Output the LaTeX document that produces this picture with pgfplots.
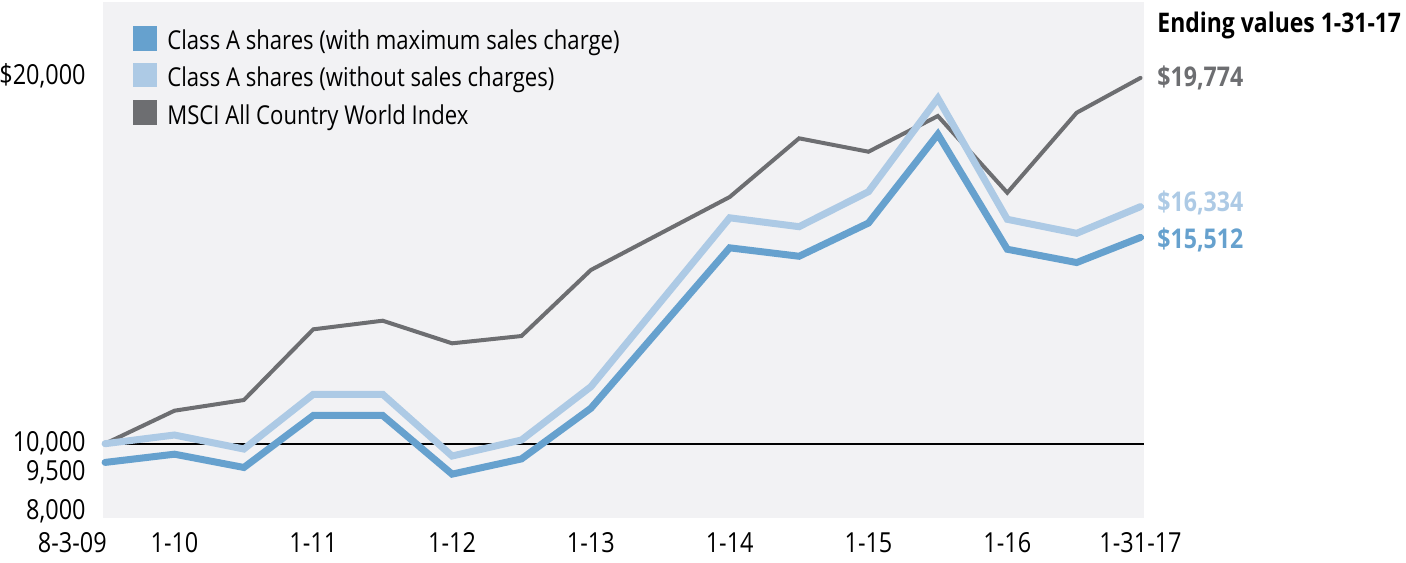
\documentclass[border=0pt]{standalone}
\usepackage{fontspec}
\setmainfont{Open Sans}[FakeStretch=0.85]
\usepackage{pgfplots}
\pgfplotsset{compat=1.18}
\definecolor{cdark}{RGB}{102,161,206}
\definecolor{clight}{RGB}{173,202,229}
\definecolor{cgray}{RGB}{109,110,113}
\definecolor{cbg}{RGB}{242,242,244}
\begin{document}
\begin{tikzpicture}
\begin{axis}[
  at={(51.5bp,-1bp)}, anchor=north west,
  scale only axis, width=520.5bp, height=258bp,
  xmin=-0.03, xmax=14.97, ymin=8015, ymax=21801,
  clip=false,
  axis line style={draw=none},
  axis background/.style={fill=cbg},
  major tick length=0pt,
  tick label style={font=\fontsize{13.8bp}{15bp}\selectfont, inner sep=0pt},
  xtick={1,3,5,7,9,11,13,14.92},
  xticklabels={1-10,1-11,1-12,1-13,1-14,1-15,1-16,1-31-17},
  xticklabel style={anchor=north, yshift=-7bp},
  extra x ticks={0}, extra x tick labels={8-3-09},
  extra x tick style={grid=none, xticklabel style={anchor=north east, xshift=1bp}},
  ytick={8202,9244,10000,19824},
  yticklabels={{8,000},{9,500},{10,000},{\$20,000}},
  yticklabel style={anchor=east, xshift=-8.5bp},
]
\addplot[black, line width=1.1bp] coordinates {(-0.03,10000) (14.97,10000)};
\addplot[cgray, line width=2bp, line cap=round] coordinates {
 (0,10000) (1,10882) (2,11167) (3,13056) (4,13286) (5,12682) (6,12877) (7,14641)
 (9,16591) (10,18159) (11,17801) (12,18755) (13,16706) (14,18843) (14.92,19774)};
\addplot[clight, line width=3.5bp, line cap=round] coordinates {
 (0,10000) (1,10232) (2,9858) (3,11320) (4,11320) (5,9671) (6,10099) (7,11523)
 (9,16035) (10,15798) (11,16733) (12,19228) (13,15995) (14,15621) (14.92,16334)};
\addplot[cdark, line width=3.5bp, line cap=round] coordinates {
 (0,9500) (1,9720) (2,9365) (3,10754) (4,10754) (5,9187) (6,9594) (7,10947)
 (9,15233) (10,15008) (11,15896) (12,18267) (13,15195) (14,14840) (14.92,15512)};
\end{axis}
% legend
\fill[cdark]  (66.3bp,-13bp)   rectangle (78.5bp,-25.3bp);
\fill[clight] (66.3bp,-31.3bp) rectangle (78.5bp,-43.7bp);
\fill[cgray]  (66.3bp,-50bp)   rectangle (78.5bp,-62.5bp);
\begin{scope}[every node/.style={anchor=base west, inner sep=0pt, font=\fontsize{13bp}{15bp}\selectfont}]
\node at (83.5bp,-24.7bp) {Class A shares (with maximum sales charge)};
\node at (83.5bp,-43bp) {Class A shares (without sales charges)};
\node at (83.5bp,-62bp) {MSCI All Country World Index};
\end{scope}
% ending values
\begin{scope}[every node/.style={anchor=base west, inner sep=0pt}]
\node[font=\bfseries\fontsize{13.5bp}{15bp}\selectfont] at (578.5bp,-16.2bp) {Ending values 1-31-17};
\node[font=\bfseries\fontsize{13.6bp}{16bp}\selectfont, text=cgray] at (578.5bp,-43bp) {\$19,774};
\node[font=\bfseries\fontsize{13.6bp}{16bp}\selectfont, text=clight] at (578.5bp,-105.8bp) {\$16,334};
\node[font=\bfseries\fontsize{13.6bp}{16bp}\selectfont, text=cdark] at (578.5bp,-124bp) {\$15,512};
\end{scope}
\pgfresetboundingbox
\path[use as bounding box] (0,0) rectangle (703bp,-281.5bp);
\end{tikzpicture}
\end{document}
